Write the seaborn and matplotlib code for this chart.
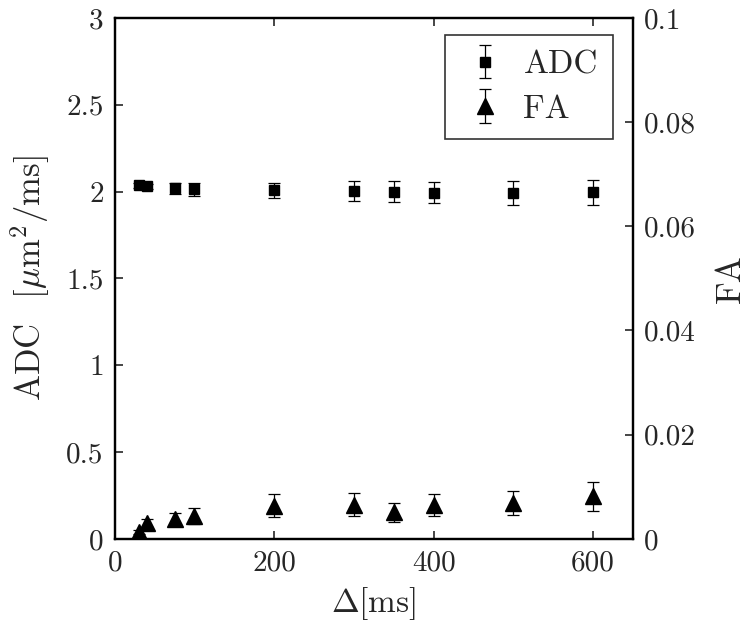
import matplotlib
matplotlib.use("Agg")
import matplotlib.pyplot as plt
import seaborn as sns
import numpy as np

# Data
delta_ms = [30, 40, 75, 100, 200, 300, 350, 400, 500, 600]
adc_mean = [2.035, 2.031, 2.019, 2.014, 2.006, 2.003, 2.000, 1.993, 1.990, 1.995]
adc_err = [0.015, 0.015, 0.031, 0.037, 0.045, 0.055, 0.058, 0.061, 0.068, 0.073]
fa_mean = [0.0013, 0.0030, 0.00375, 0.0044, 0.0064, 0.0066, 0.0051, 0.0065, 0.0069, 0.0082]
fa_err = [0.0004, 0.0008, 0.0013, 0.0015, 0.0022, 0.0022, 0.0018, 0.0022, 0.0023, 0.0028]

x_ticks = [0, 200, 400, 600]
adc_ticks = [0, 0.5, 1, 1.5, 2, 2.5, 3]
adc_ticklabels = ["0", "0.5", "1", "1.5", "2", "2.5", "3"]
fa_ticks = [0, 0.02, 0.04, 0.06, 0.08, 0.1]
fa_ticklabels = ["0", "0.02", "0.04", "0.06", "0.08", "0.1"]

sns.set_style("ticks")
plt.rcParams["font.family"] = ["cmr10", "DejaVu Serif"]
plt.rcParams["mathtext.fontset"] = "cm"
plt.rcParams["axes.formatter.use_mathtext"] = True

fig = plt.figure(figsize=(7.5, 6.37), dpi=100)
ax = fig.add_axes([0.153, 0.154, 0.691, 0.818])
ax2 = ax.twinx()

h1 = ax.errorbar(delta_ms, adc_mean, yerr=adc_err, fmt="s", color="black",
                 markersize=6.5, capsize=4, elinewidth=0.9, capthick=0.9,
                 label="ADC")
h2 = ax2.errorbar(delta_ms, fa_mean, yerr=fa_err, fmt="^", color="black",
                  markersize=11.5, capsize=4, elinewidth=0.9, capthick=0.9,
                  label="FA")

ax.set_xlim(0, 650)
ax.set_ylim(0, 3)
ax2.set_ylim(0, 0.1)
ax.set_xticks(x_ticks)
ax.set_xticklabels([str(t) for t in x_ticks])
ax.set_yticks(adc_ticks)
ax.set_yticklabels(adc_ticklabels)
ax2.set_yticks(fa_ticks)
ax2.set_yticklabels(fa_ticklabels)

for a in (ax, ax2):
    for s in a.spines.values():
        s.set_linewidth(1.6)
        s.set_color("black")
ax.tick_params(axis="both", direction="in", length=6, width=1.2, labelsize=21,
               top=True, right=False, pad=8)
ax2.tick_params(axis="y", direction="in", length=6, width=1.2, labelsize=21, pad=8)

ax.set_xlabel(r"$\Delta$[ms]", fontsize=24, labelpad=6)
ax.set_ylabel(r"ADC $\;\,[\mu\mathrm{m}^2/\mathrm{ms}]$", fontsize=25, labelpad=10)
ax2.set_ylabel("FA", fontsize=25, rotation=90, labelpad=14)

leg = ax2.legend([h1, h2], ["ADC", "FA"], loc="upper right", fontsize=24,
                 frameon=True, fancybox=False, edgecolor="black",
                 borderpad=0.45, handlelength=1.5, handletextpad=0.4,
                 labelspacing=0.45, borderaxespad=0,
                 bbox_to_anchor=(0.961, 0.967))
leg.get_frame().set_linewidth(1.2)

fig.savefig("out.png", dpi=100)
